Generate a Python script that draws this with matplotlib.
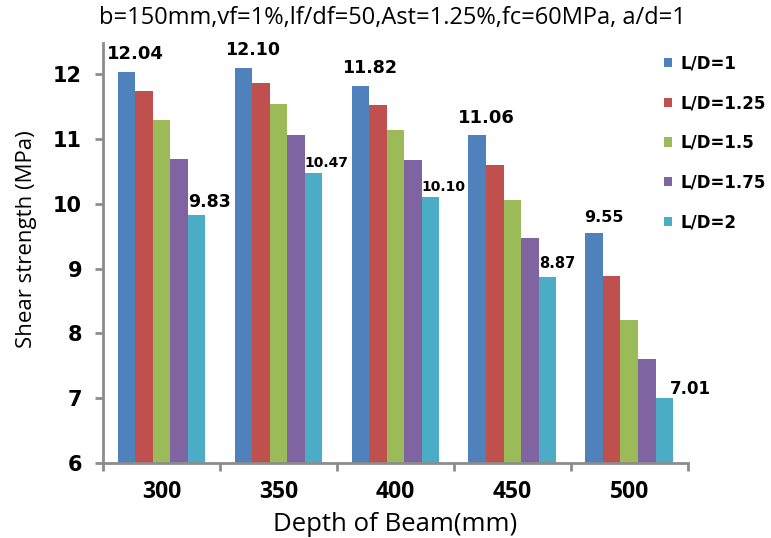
import matplotlib
matplotlib.use("Agg")
import matplotlib.pyplot as plt
import numpy as np

# data
depths = ["300", "350", "400", "450", "500"]
series = ["L/D=1", "L/D=1.25", "L/D=1.5", "L/D=1.75", "L/D=2"]
ld_1 = [12.04, 12.10, 11.82, 11.06, 9.55]
ld_125 = [11.74, 11.86, 11.52, 10.60, 8.88]
ld_15 = [11.29, 11.54, 11.14, 10.06, 8.21]
ld_175 = [10.69, 11.06, 10.67, 9.47, 7.60]
ld_2 = [9.83, 10.47, 10.10, 8.87, 7.01]

colors = ["#4F81BD", "#C0504D", "#9BBB59", "#8064A2", "#4BACC6"]
spine_col = "#8c8c8c"

fig = plt.figure(figsize=(7.71, 5.38), dpi=100)
ax = fig.add_axes([0.1336, 0.1394, 0.7584, 0.7806])

x = np.arange(len(depths))
w = 0.15
vals = [ld_1, ld_125, ld_15, ld_175, ld_2]
for i, v in enumerate(vals):
    ax.bar(x + (i - 2) * w, v, w, color=colors[i], label=series[i], zorder=2)

# value labels (only first and last series are labelled)
blue_sizes = [13, 12.5, 12.5, 13, 11.5]
for j in range(len(depths)):
    ax.annotate("%.2f" % ld_1[j], (x[j] - 2 * w + 0.08, ld_1[j]),
                xytext=(0, 6), textcoords="offset points",
                ha="center", va="bottom", fontsize=blue_sizes[j], fontweight="bold")
cyan_sizes = [12.5, 10, 10, 10.5, 12]
cyan_dx = [0, 0, 0, 0, 0.12]
cyan_dy = [2.5, 2.5, 2.5, 4, 0]
for j in range(len(depths)):
    ax.annotate("%.2f" % ld_2[j], (x[j] + 1.5 * w + cyan_dx[j], ld_2[j]),
                xytext=(0, cyan_dy[j]), textcoords="offset points",
                ha="left", va="bottom", fontsize=cyan_sizes[j], fontweight="bold")

ax.set_xlim(-0.5, 4.5)
ax.set_ylim(6, 12.48)
ax.set_yticks(range(6, 13))
ax.set_xticks(x)
ax.set_xticklabels(depths, fontsize=16.5, fontweight="bold", family="Open Sans")
ax.tick_params(axis="x", length=0, pad=12)
ax.set_xticks(np.arange(-0.5, 5, 1), minor=True)
ax.tick_params(axis="x", which="minor", length=6, width=2, color=spine_col)
ax.tick_params(axis="y", length=6, width=2, color=spine_col, labelsize=15, pad=9)
for lab in ax.get_yticklabels():
    lab.set_fontweight("bold")

for s in ["top", "right"]:
    ax.spines[s].set_visible(False)
for s in ["left", "bottom"]:
    ax.spines[s].set_color(spine_col)
    ax.spines[s].set_linewidth(2)

ax.set_ylabel("Shear strength (MPa)", fontsize=16, family="Open Sans")
ax.yaxis.set_label_coords(-0.113, 0.533)
ax.set_xlabel("Depth of Beam(mm)", fontsize=18.5, family="Open Sans", labelpad=6)

fig.text(0.128, 0.966, "b=150mm,vf=1%,lf/df=50,Ast=1.25%,fc=60MPa, a/d=1",
         fontsize=17, family="Open Sans", va="center", ha="left")

fig.legend(loc="upper left", bbox_to_anchor=(0.852, 0.911), frameon=False,
           prop={"size": 12, "weight": "bold"}, handlelength=0.5, handleheight=0.5,
           handletextpad=0.5, labelspacing=1.3, borderaxespad=0)

fig.savefig("out.png", dpi=100)
